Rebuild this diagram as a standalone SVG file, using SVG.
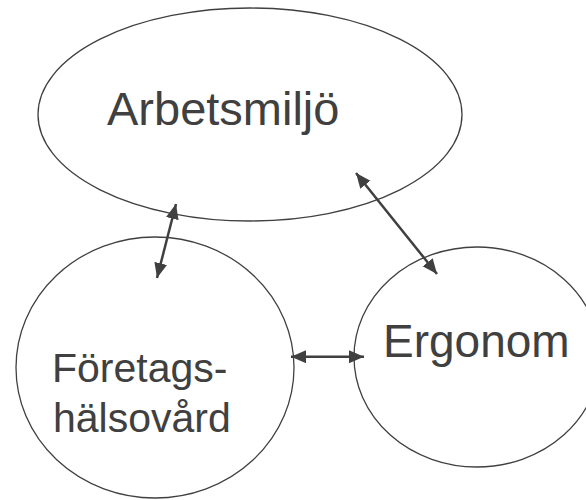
<svg xmlns="http://www.w3.org/2000/svg" width="586" height="500" viewBox="0 0 586 500">
  <style>
    .node { fill: #ffffff; stroke: #404040; stroke-width: 1.3; }
    .label { font-family: "Liberation Sans", Arial, sans-serif; fill: #404040; }
    .link { stroke: #404040; stroke-width: 2.5; fill: none; marker-start: url(#head); marker-end: url(#head); }
  </style>
  <defs>
    <marker id="head" markerUnits="userSpaceOnUse" markerWidth="16" markerHeight="14" viewBox="0 0 16 14" refX="15" refY="6.5" orient="auto-start-reverse">
      <path d="M0,0 L15,6.5 L0,13 Z" fill="#404040"/>
    </marker>
  </defs>
  <rect width="586" height="500" fill="#ffffff"/>

  <g id="arbetsmiljo">
    <ellipse class="node" cx="250" cy="114.5" rx="212" ry="106.5"/>
    <text class="label" x="107" y="125" font-size="47">Arbetsmiljö</text>
  </g>

  <g id="foretagshalsovard">
    <ellipse class="node" cx="155" cy="367.5" rx="139" ry="130.5"/>
    <text class="label" x="52" y="382" font-size="41">Företags-</text>
    <text class="label" x="53" y="432" font-size="41">hälsovård</text>
  </g>

  <g id="ergonom">
    <ellipse class="node" cx="477" cy="357" rx="123" ry="110"/>
    <text class="label" x="383" y="357" font-size="46">Ergonom</text>
  </g>

  <g id="connectors">
    <line class="link" x1="176" y1="204" x2="157" y2="278"/>
    <line class="link" x1="356" y1="173" x2="437" y2="274"/>
    <line class="link" x1="291" y1="356.7" x2="364" y2="356.7"/>
  </g>
</svg>
